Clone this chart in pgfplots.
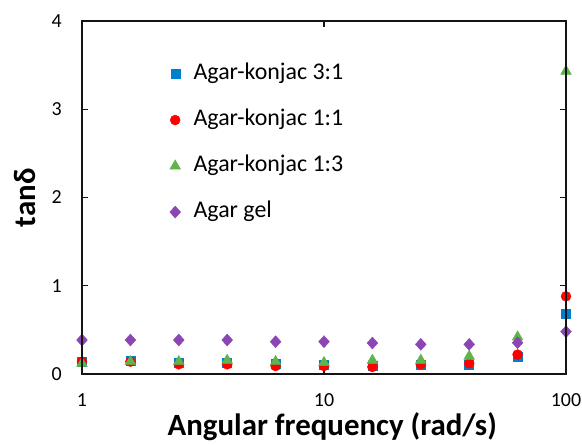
\documentclass[border=0pt]{standalone}
\usepackage{fontspec}
\setmainfont{Carlito}
\usepackage{pgfplots}
\pgfplotsset{compat=1.18}
\pgfplotsset{/pgf/number format/assume math mode=true}
\definecolor{cblue}{RGB}{0,128,204}
\definecolor{cred}{RGB}{255,0,0}
\definecolor{cgreen}{RGB}{95,180,75}
\definecolor{cpurple}{RGB}{140,70,180}
\definecolor{frame}{RGB}{20,20,20}
\begin{document}
\begin{tikzpicture}
\begin{axis}[
  name=ax,
  at={(82bp,70bp)}, anchor=south west,
  scale only axis, width=484bp, height=353bp,
  xmode=log, xmin=1, xmax=100, ymin=0, ymax=4,
  xtick={1,10,100}, xticklabels={1,10,100},
  ytick={0,1,2,3,4},
  xminorticks=false,
  axis line style={draw=frame, line width=2.2bp},
  major tick style={draw=frame, line width=1.2bp},
  major tick length=6bp,
  tick label style={font=\fontsize{20}{23}\selectfont},
  xticklabel style={anchor=north, inner sep=0pt, yshift=-19bp},
  yticklabel style={anchor=east, inner sep=0pt, xshift=-20bp},
  every axis x label/.style={at={(axis description cs:0.517,0)}, anchor=base, yshift=-62bp},
  every axis y label/.style={at={(axis description cs:-0.118,0.499)}, rotate=90, anchor=center},
  xlabel={\fontsize{31}{35}\selectfont\bfseries Angular frequency (rad/s)},
  ylabel={\fontsize{31}{35}\selectfont\bfseries tanδ},
  legend style={draw=none, fill=none, inner sep=0pt,
    at={(axis description cs:0.181,0.88)}, anchor=north west,
    font=\fontsize{24}{27}\selectfont,
    nodes={inner sep=0pt, text height=16bp, text depth=5bp},
    row sep=25bp, column sep=13bp},
  legend cell align=left,
  legend image code/.code={\draw[mark repeat=2,mark phase=2,#1] plot coordinates {(-8bp,0bp)(0bp,0bp)(8bp,0bp)};},
  clip=false,
]
\addplot[only marks, mark=square*, mark size=4.5bp, color=cblue] coordinates {
(1,0.14) (1.585,0.15) (2.512,0.13) (3.981,0.13) (6.31,0.12) (10,0.11) (15.85,0.09) (25.12,0.11) (39.81,0.11) (63.1,0.20) (100,0.68)};
\addlegendentry{Agar-konjac 3:1}
\addplot[only marks, mark=*, mark size=5bp, color=cred] coordinates {
(1,0.14) (1.585,0.14) (2.512,0.11) (3.981,0.11) (6.31,0.09) (10,0.09) (15.85,0.08) (25.12,0.11) (39.81,0.12) (63.1,0.22) (100,0.88)};
\addlegendentry{Agar-konjac 1:1}
\addplot[only marks, mark=triangle*, mark size=6.2bp, color=cgreen] coordinates {
(1,0.12) (1.585,0.14) (2.512,0.14) (3.981,0.155) (6.31,0.14) (10,0.13) (15.85,0.155) (25.12,0.155) (39.81,0.20) (63.1,0.42) (100,3.43)};
\addlegendentry{Agar-konjac 1:3}
\addplot[only marks, mark=diamond*, mark size=6bp, mark options={xscale=1.2}, color=cpurple] coordinates {
(1,0.385) (1.585,0.385) (2.512,0.385) (3.981,0.385) (6.31,0.366) (10,0.366) (15.85,0.351) (25.12,0.336) (39.81,0.336) (63.1,0.355) (100,0.48)};
\addlegendentry{Agar gel}
\end{axis}
\draw[frame, line width=2.2bp] (ax.south west) rectangle (ax.north east);
\path (0bp,0bp) rectangle (582bp,444bp);
\end{tikzpicture}
\end{document}
